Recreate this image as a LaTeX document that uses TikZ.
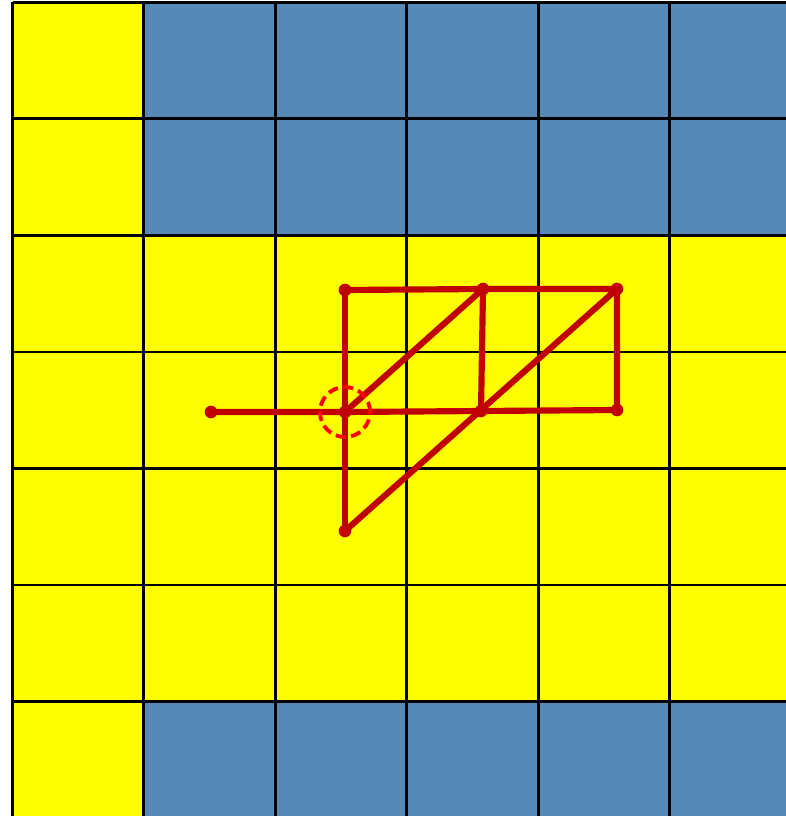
\documentclass[tikz,border=0pt]{standalone}
\usepackage{tikz}
\usetikzlibrary{calc}
\definecolor{cellyellow}{RGB}{255,255,0}
\definecolor{cellblue}{RGB}{84,137,184}
\definecolor{pathred}{RGB}{192,0,0}
\definecolor{ringred}{RGB}{255,0,0}

\begin{document}
\begin{tikzpicture}[x=0.01cm,y=-0.01cm,
    gridline/.style={black,line width=0.85pt},
    redpath/.style={pathred,line width=1.75pt,line cap=round},
    reddot/.style={fill=pathred}]
			\def\w{131.4}
			\def\h{116.5}
			\def\xo{12.5}
			\def\yo{2.5}
			
			\useasboundingbox (0,0) rectangle (786,816);
			\clip (0,0) rectangle (786,816);
			
			% cells
			\fill[cellyellow] (\xo,\yo) rectangle ++({6*\w},{7*\h});
			\foreach \r in {0,1,6}
			\foreach \c in {1,...,5}
			\fill[cellblue] ({\xo+\c*\w},{\yo+\r*\h}) rectangle ++(\w,\h);
			
			% grid
			\foreach \c in {0,...,6}
			\draw[gridline] ({\xo+\c*\w},\yo) -- ++(0,{7*\h});
			\foreach \r in {0,...,7}
			\draw[gridline] (\xo,{\yo+\r*\h}) -- ++({6*\w},0);
			
			% points of the path
			\coordinate (A) at (345,290);
			\coordinate (B) at (483,289);
			\coordinate (C) at (617,289);
			\coordinate (D) at (211,412);
			\coordinate (E) at (345,412);
			\coordinate (F) at (481,411);
			\coordinate (G) at (617,410);
			\coordinate (H) at (345,531);
			
			\draw[redpath] (A) -- (B) -- (C) -- (G) -- (F) -- (E) -- (D);
			\draw[redpath] (A) -- (E) -- (H);
			\draw[redpath] (B) -- (F);
			\draw[redpath] (E) -- (B);
			\draw[redpath] (H) -- (C);
			
			\foreach \p in {A,B,C,D,E,F,G,H}
			\fill[reddot] (\p) circle (1.8pt);
			
			\draw[ringred,line width=1.1pt,dash pattern=on 2.9pt off 1.5pt] (E) circle (0.25cm);
		\end{tikzpicture}
\end{document}
